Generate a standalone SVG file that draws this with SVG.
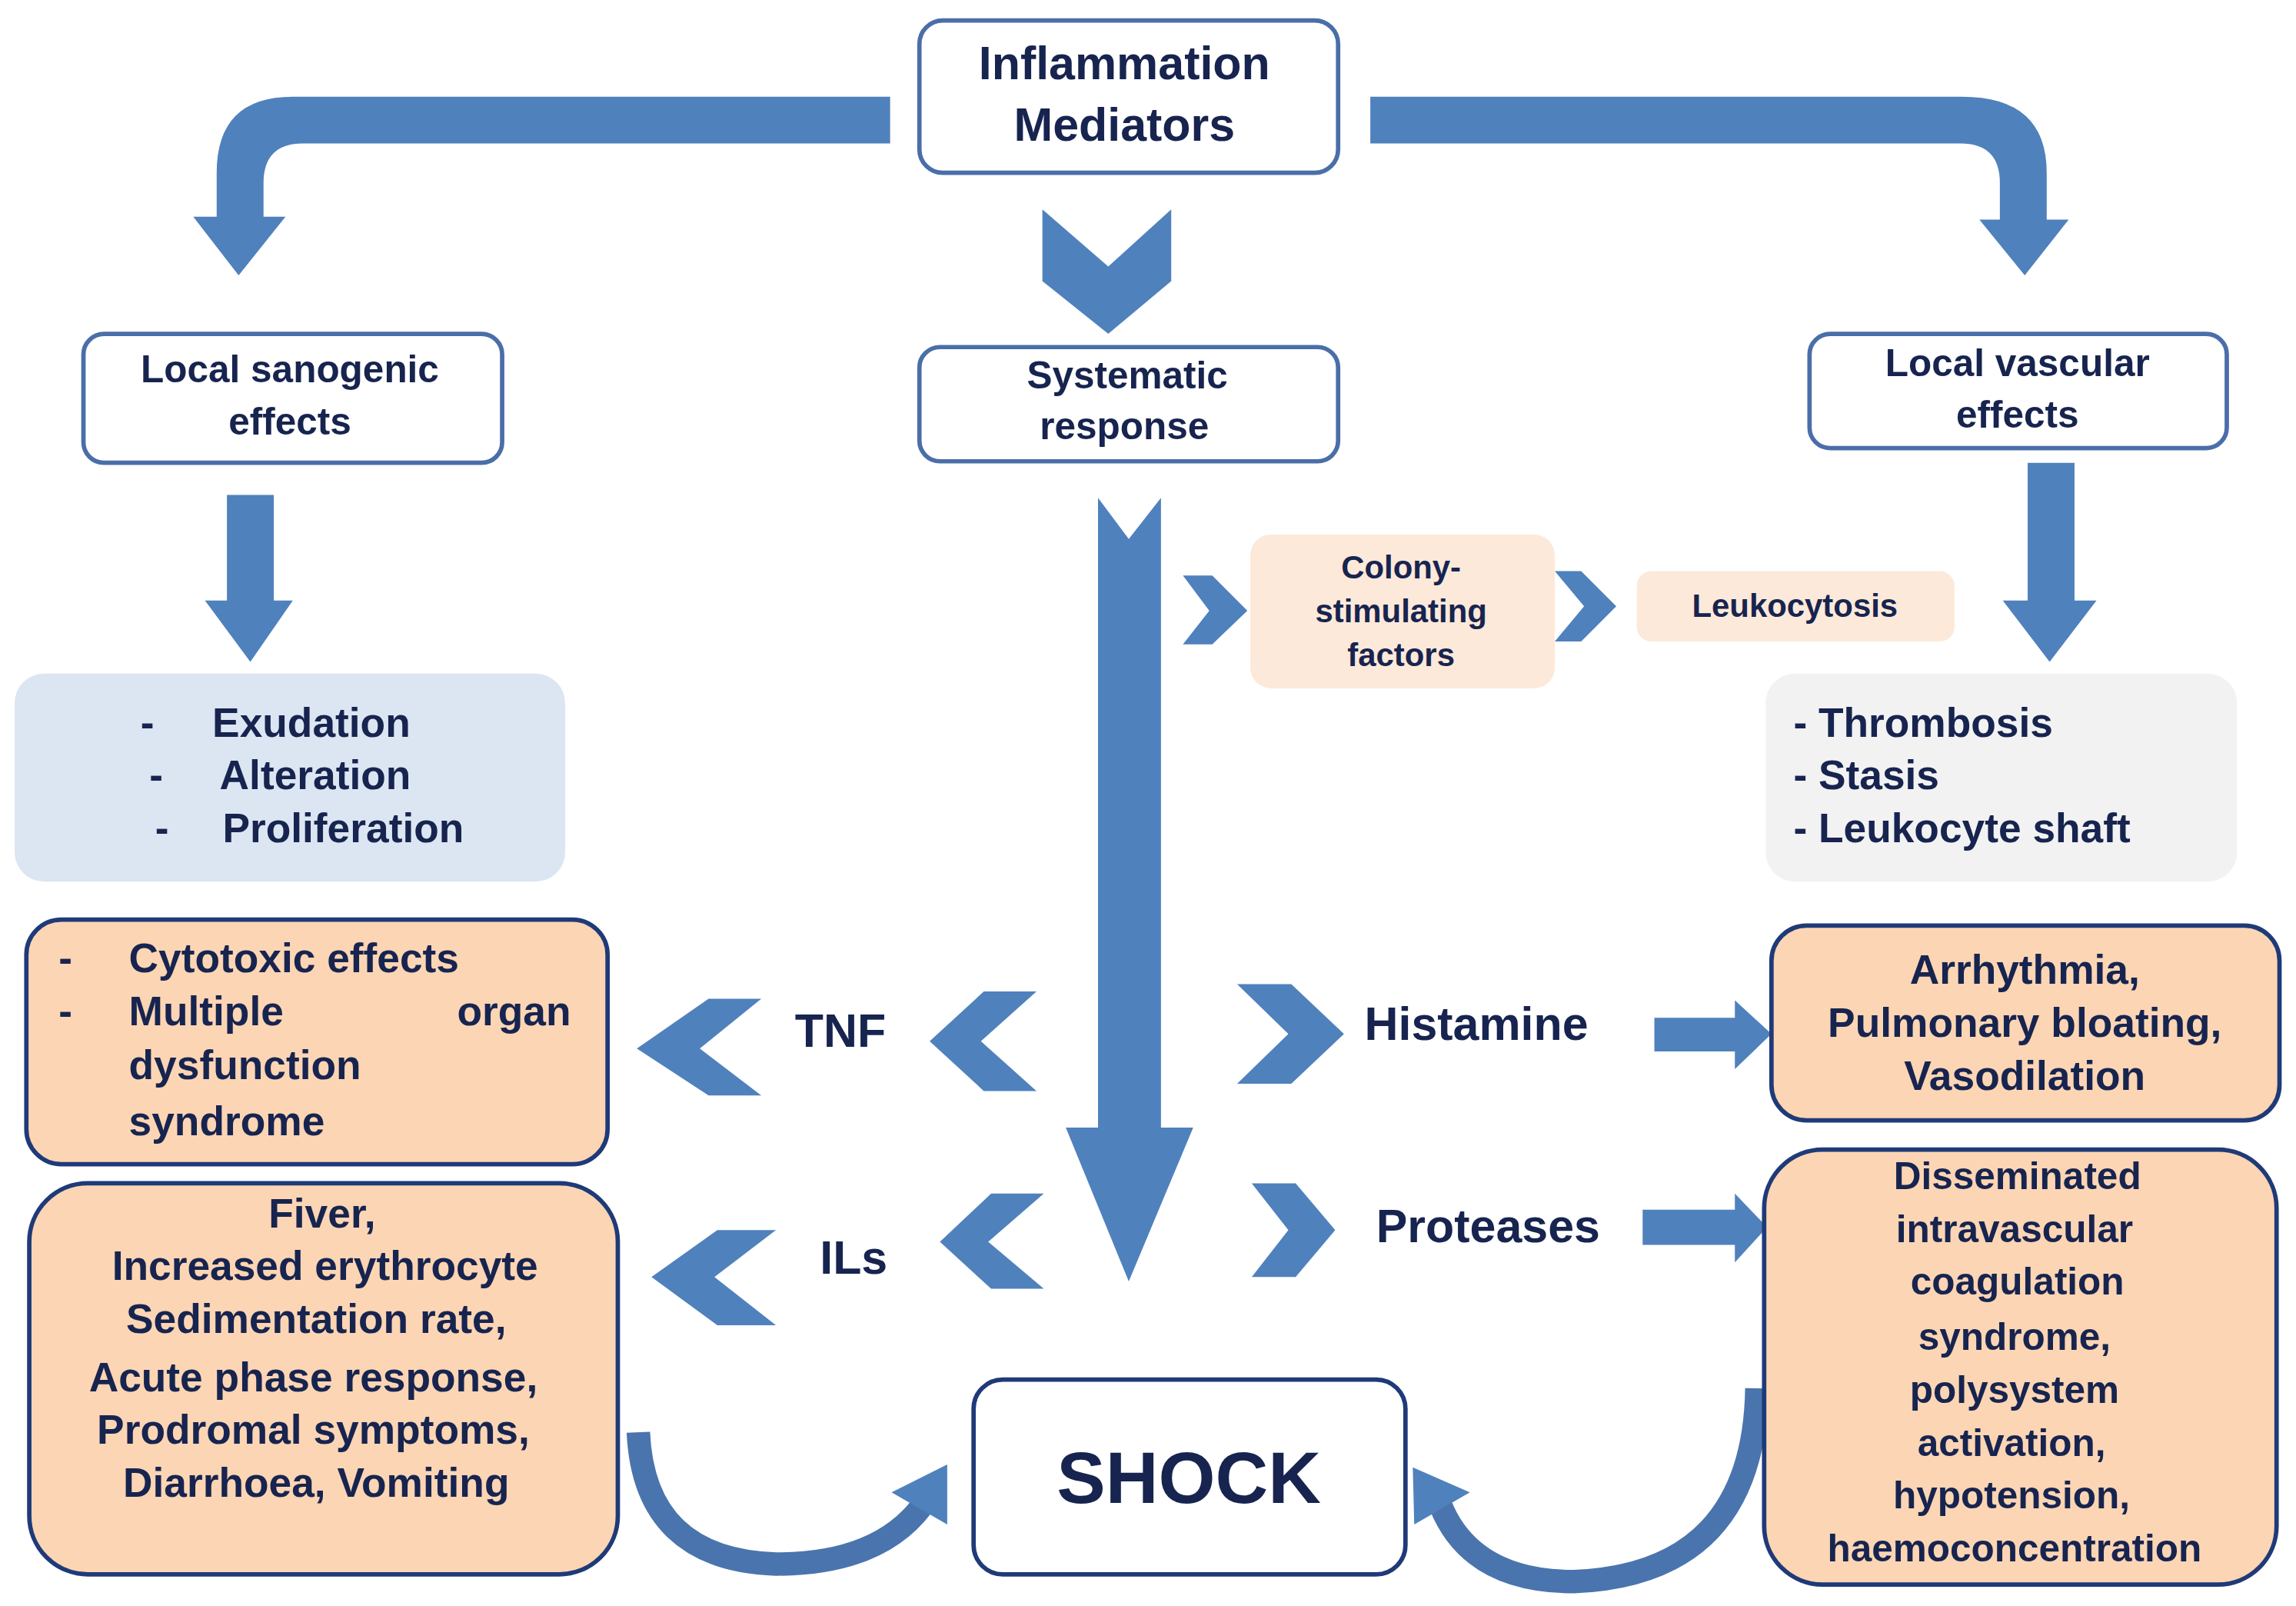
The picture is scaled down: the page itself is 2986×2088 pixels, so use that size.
<svg xmlns="http://www.w3.org/2000/svg" width="2986" height="2088" viewBox="0 0 2986 2088">
<style>
text{font-family:"Liberation Sans",Arial,sans-serif;font-weight:bold;fill:#17244f}
.c{text-anchor:middle}
.wb{fill:#fff;stroke:#4a6ea8;stroke-width:3}
.ob{fill:#fcd5b4;stroke:#1f3a78;stroke-width:3}
.ar{fill:#4f81bd}
.cu{fill:none;stroke:#4a74ad;stroke-width:16}
</style>
<rect width="2986" height="2088" fill="#fff"/>
<g transform="scale(1.904)">
<g id="connectors">
<path class="ar" d="M608,66 H200 Q148,66 148,118 V148 H132 L163,188 L195,148 H180 V125 Q180,98 207,98 H608 Z"/>
<path class="ar" d="M936,66 H1340 Q1398,66 1398,118 V150 H1413 L1383,188 L1352,150 H1366 V125 Q1366,98 1339,98 H936 Z"/>
<polygon class="ar" points="712,143 757,182 800,143 800,192 757,228 712,192"/>
<polygon class="ar" points="155,338 187,338 187,410 200,410 171,452 140,410 155,410"/>
<polygon class="ar" points="1385,316 1417,316 1417,410 1432,410 1400,452 1368,410 1385,410"/>
<polygon class="ar" points="750,340 771,368 793,340 793,770 815,770 771,875 728,770 750,770"/>
<polygon class="ar" points="808,393 828,393 852,417 828,440 808,440 826,417"/>
<polygon class="ar" points="1062,390 1080,390 1104,414 1080,438 1062,438 1082,414"/>
<polygon class="ar" points="520,682 484,682 435,716 484,748 520,748 478,716"/>
<polygon class="ar" points="708,677 672,677 635,711 672,745 708,745 670,711"/>
<polygon class="ar" points="845,672 882,672 918,706 882,740 845,740 880,706"/>
<polygon class="ar" points="1130,695 1185,695 1185,683 1210,706 1185,730 1185,718 1130,718"/>
<polygon class="ar" points="530,840 490,840 445,872 490,905 530,905 488,872"/>
<polygon class="ar" points="713,815 677,815 642,848 677,880 713,880 675,848"/>
<polygon class="ar" points="855,808 885,808 912,840 885,872 855,872 880,840"/>
<polygon class="ar" points="1122,826 1185,826 1185,815 1207,838 1185,862 1185,850 1122,850"/>
<path class="cu" d="M436,978 Q440,1065 530,1068 Q600,1068 630,1028"/>
<polygon class="ar" points="609,1019 647,1041 647,1000"/>
<path class="cu" d="M1200,948 Q1198,1075 1075,1080 Q1005,1080 984,1028"/>
<polygon class="ar" points="966,1041 1004,1019 965,1002"/>
</g>
<g id="n-mediators"><rect class="wb" x="628" y="14" width="286" height="104" rx="16"/>
<text class="c" x="768" y="54" font-size="32">Inflammation</text><text class="c" x="768" y="96" font-size="32">Mediators</text></g>
<g id="n-sanogenic"><rect class="wb" x="57" y="228" width="286" height="88" rx="14"/>
<text class="c" x="198" y="261" font-size="26">Local sanogenic</text><text class="c" x="198" y="297" font-size="26">effects</text></g>
<g id="n-systematic"><rect class="wb" x="628" y="237" width="286" height="78" rx="14"/>
<text class="c" x="770" y="265" font-size="26">Systematic</text><text class="c" x="768" y="300" font-size="26">response</text></g>
<g id="n-vascular"><rect class="wb" x="1236" y="228" width="285" height="78" rx="14"/>
<text class="c" x="1378" y="257" font-size="26">Local vascular</text><text class="c" x="1378" y="292" font-size="26">effects</text></g>
<g id="n-exudation"><rect x="10" y="460" width="376" height="142" rx="20" fill="#dce6f2"/>
<text x="96" y="503" font-size="28">-</text><text x="145" y="503" font-size="28">Exudation</text>
<text x="102" y="539" font-size="28">-</text><text x="150" y="539" font-size="28">Alteration</text>
<text x="106" y="575" font-size="28">-</text><text x="152" y="575" font-size="28">Proliferation</text></g>
<g id="n-thrombosis"><rect x="1206" y="460" width="322" height="142" rx="20" fill="#f2f2f2"/>
<text x="1225" y="503" font-size="28">- Thrombosis</text><text x="1225" y="539" font-size="28">- Stasis</text><text x="1225" y="575" font-size="28">- Leukocyte shaft</text></g>
<g id="n-colony"><rect x="854" y="365" width="208" height="105" rx="14" fill="#fde9d9"/>
<text class="c" x="957" y="395" font-size="22">Colony-</text><text class="c" x="957" y="425" font-size="22">stimulating</text><text class="c" x="957" y="455" font-size="22">factors</text></g>
<g id="n-leukocytosis"><rect x="1118" y="390" width="217" height="48" rx="10" fill="#fde9d9"/>
<text class="c" x="1226" y="421" font-size="22">Leukocytosis</text></g>
<g id="n-cytotoxic"><rect class="ob" x="18" y="628" width="397" height="167" rx="24"/>
<text x="40" y="664" font-size="28">-</text><text x="88" y="664" font-size="28">Cytotoxic effects</text>
<text x="40" y="700" font-size="28">-</text><text x="88" y="700" font-size="28">Multiple</text><text x="390" y="700" font-size="28" text-anchor="end">organ</text>
<text x="88" y="737" font-size="28">dysfunction</text><text x="88" y="775" font-size="28">syndrome</text></g>
<g id="n-tnf"><text x="543" y="715" font-size="32">TNF</text></g>
<g id="n-histamine"><text x="932" y="710" font-size="32">Histamine</text></g>
<g id="n-arrhythmia"><rect class="ob" x="1210" y="632" width="347" height="133" rx="24"/>
<text class="c" x="1383" y="672" font-size="28">Arrhythmia,</text><text class="c" x="1383" y="708" font-size="28">Pulmonary bloating,</text><text class="c" x="1383" y="744" font-size="28">Vasodilation</text></g>
<g id="n-ils"><text x="560" y="870" font-size="32">ILs</text></g>
<g id="n-proteases"><text x="940" y="848" font-size="32">Proteases</text></g>
<g id="n-fiver"><rect class="ob" x="20" y="808" width="402" height="267" rx="40"/>
<text class="c" x="220" y="838" font-size="28">Fiver,</text><text class="c" x="222" y="874" font-size="28">Increased erythrocyte</text>
<text class="c" x="216" y="910" font-size="28">Sedimentation rate,</text><text class="c" x="214" y="950" font-size="28">Acute  phase response,</text>
<text class="c" x="214" y="986" font-size="28">Prodromal symptoms,</text><text class="c" x="216" y="1022" font-size="28">Diarrhoea, Vomiting</text></g>
<g id="n-dic"><rect class="ob" x="1205" y="785" width="350" height="297" rx="40"/>
<text class="c" x="1378" y="812" font-size="26">Disseminated</text><text class="c" x="1376" y="848" font-size="26">intravascular</text>
<text class="c" x="1378" y="884" font-size="26">coagulation</text><text class="c" x="1376" y="922" font-size="26">syndrome,</text>
<text class="c" x="1376" y="958" font-size="26">polysystem</text><text class="c" x="1374" y="994" font-size="26">activation,</text>
<text class="c" x="1374" y="1030" font-size="26">hypotension,</text><text class="c" x="1376" y="1066" font-size="26">haemoconcentration</text></g>
<g id="n-shock"><rect x="665" y="942" width="295" height="133" rx="20" fill="#fff" stroke="#1f3a78" stroke-width="3"/>
<text class="c" x="812" y="1026" font-size="50" fill="#0f1a45">SHOCK</text></g>
</g>
</svg>
